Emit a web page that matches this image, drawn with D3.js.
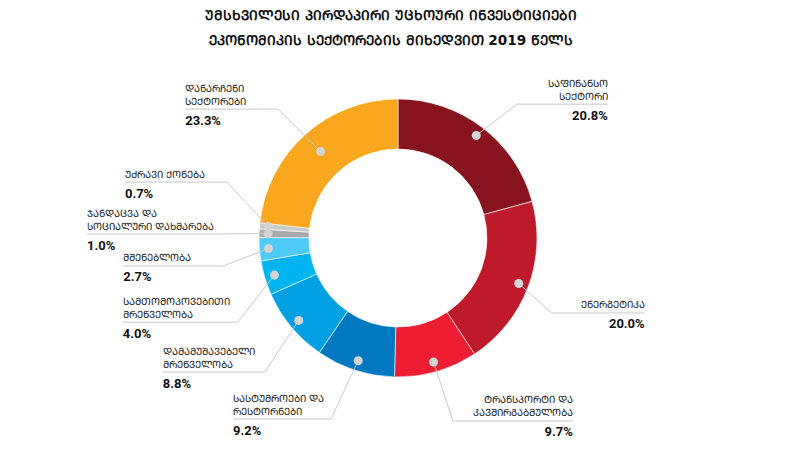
<!DOCTYPE html>
<html>
<head>
<meta charset="utf-8">
<script src="https://cdn.jsdelivr.net/npm/d3@7"></script>
<style>
body { margin: 0; background: #fff; }
svg { display: block; }
</style>
</head>
<body>
<svg id="chart"></svg>
<script>
// title, written in mkhedruli and turned into mtavruli below
const titleLines = [
    "უმსხვილესი პირდაპირი უცხოური ინვესტიციები",
    "ეკონომიკის სექტორების მიხედვით 2019 წელს"
];

const sectors = [
    ["საფინანსო", "სექტორი"],
    ["ენერგეტიკა"],
    ["ტრანსპორტი და", "კავშირგაბმულობა"],
    ["სასტუმროები და", "რესტორნები"],
    ["დამამუშავებელი", "მრეწველობა"],
    ["სამთომოპოვებითი", "მრეწველობა"],
    ["მშენებლობა"],
    ["ჯანდაცვა და", "სოციალური დახმარება"],
    ["უძრავი ქონება"],
    ["დანარჩენი", "სექტორები"]
];

const shares = [20.8, 20.0, 9.7, 9.2, 8.8, 4.0, 2.7, 1.0, 0.7, 23.3];

const colours = ["#87131f", "#be1a2c", "#ec1c33", "#0079c1", "#00a0e2",
    "#00b5ef", "#4fc9f5", "#a7a9ac", "#c9cacc", "#f8a71e"];

// label layout: elbow angle (deg, clockwise from top), elbow radius, line length, dot radius
const labelLayout = [
    [41.6, 179, 91, 129],
    [116, 171, 93, 129],
    [163.3, 191, 120, 129],
    [200.3, 193, 98, 129],
    [224.8, 189, 102, 129],
    [242.3, 181, 115, 129],
    [260.9, 177, 100, 130],
    [271.3, 176, 135, 130],
    [288.1, 180, 102, 130],
    [317.1, 176, 93, 116]
];

let width = 786;
let height = 469;
let cx = 398;
let cy = 238;
let outerR = 139;
let innerR = 89;

function toMtavruli(s) {
    return Array.from(s).map(function (ch) {
        let c = ch.charCodeAt(0);
        if (c >= 0x10D0 && c <= 0x10FA) {
            return String.fromCharCode(c - 0x10D0 + 0x1C90);
        }
        return ch;
    }).join("");
}

let svg = d3.select("#chart")
    .attr("width", width)
    .attr("height", height);

// title
svg.selectAll(".title")
    .data(titleLines)
    .enter()
    .append("text")
    .attr("class", "title")
    .attr("x", 391)
    .attr("y", (d, i) => 15 + i * 25)
    .attr("text-anchor", "middle")
    .attr("dominant-baseline", "central")
    .attr("font-family", "DejaVu Sans, sans-serif")
    .attr("font-weight", "bold")
    .attr("font-size", "13.6px")
    .attr("fill", "#111")
    .text(d => toMtavruli(d));

let pie = d3.pie().sort(null).value(d => d);
let arcs = pie(shares);

let arc = d3.arc().innerRadius(innerR).outerRadius(outerR);

let g = svg.append("g").attr("transform", "translate(" + cx + "," + cy + ")");

g.selectAll(".slice")
    .data(arcs)
    .enter()
    .append("path")
    .attr("class", "slice")
    .attr("d", arc)
    .attr("fill", (d, i) => colours[i])
    .attr("stroke", "#fff")
    .attr("stroke-width", 0.6);

function polar(angleDeg, r) {
    let a = angleDeg * Math.PI / 180;
    return [r * Math.sin(a), -r * Math.cos(a)];
}

// leader lines, dots and labels
arcs.forEach(function (d, i) {
    let lay = labelLayout[i];
    let mid = (d.startAngle + d.endAngle) / 2 * 180 / Math.PI;
    let dot = polar(mid, lay[3]);
    let elbow = polar(lay[0], lay[1]);
    let right = elbow[0] > 0;
    let endX = right ? elbow[0] + lay[2] : elbow[0] - lay[2];

    g.append("polyline")
        .attr("points", [dot, elbow, [endX, elbow[1]]].map(p => p.join(",")).join(" "))
        .attr("fill", "none")
        .attr("stroke", "#c8c8c8")
        .attr("stroke-width", 1);

    g.append("circle")
        .attr("cx", dot[0])
        .attr("cy", dot[1])
        .attr("r", 4.5)
        .attr("fill", "#d3d4d6");

    let lines = sectors[i];
    let n = lines.length;
    lines.forEach(function (line, j) {
        g.append("text")
            .attr("x", endX)
            .attr("y", elbow[1] - 8 - 13 * (n - 1 - j))
            .attr("text-anchor", right ? "end" : "start")
            .attr("dominant-baseline", "central")
            .attr("font-family", "DejaVu Sans, sans-serif")
            .attr("font-size", "10px")
            .attr("fill", "#222")
            .text(toMtavruli(line));
    });

    g.append("text")
        .attr("x", endX)
        .attr("y", elbow[1] + 11)
        .attr("text-anchor", right ? "end" : "start")
        .attr("dominant-baseline", "central")
        .attr("font-family", "Roboto, sans-serif")
        .attr("font-weight", "bold")
        .attr("font-size", "13px")
        .attr("fill", "#111")
        .text(d3.format(".1f")(shares[i]) + "%");
});
</script>
</body>
</html>
